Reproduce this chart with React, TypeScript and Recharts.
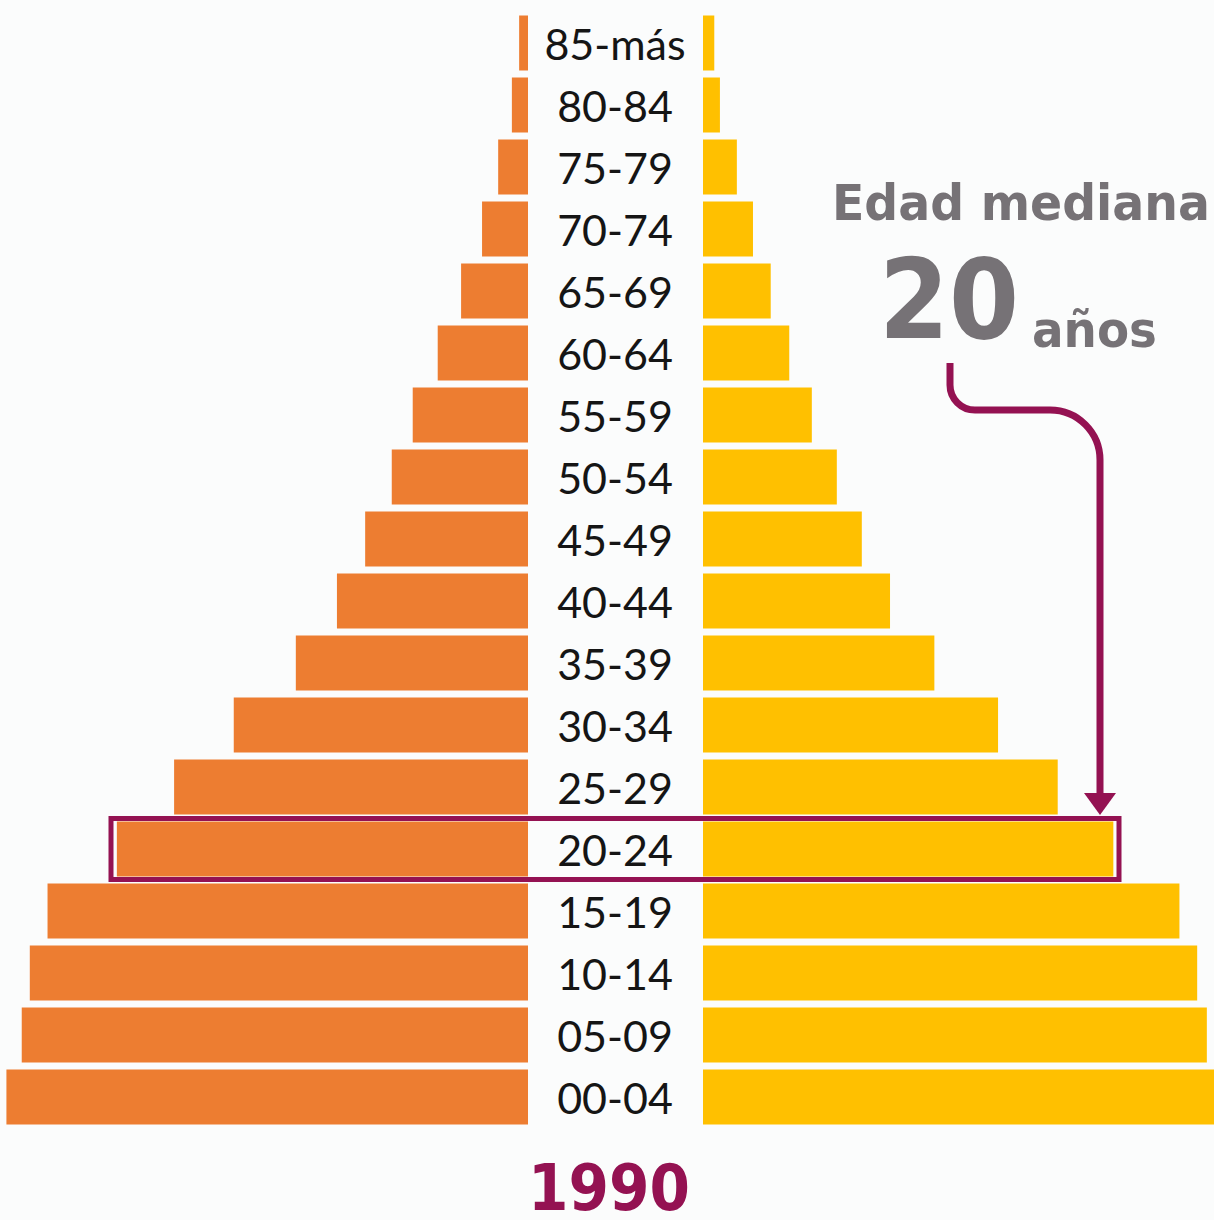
import { BarChart, Bar, XAxis, YAxis } from "recharts";

// Grupos de edad, de arriba hacia abajo
const AGE_GROUPS = [
  "85-más", "80-84", "75-79", "70-74", "65-69", "60-64", "55-59", "50-54", "45-49",
  "40-44", "35-39", "30-34", "25-29", "20-24", "15-19", "10-14", "05-09", "00-04",
];

// % de la población total, 1990
const MEN = [
  0.11, 0.2, 0.37, 0.57, 0.83, 1.12, 1.43, 1.69, 2.02,
  2.37, 2.88, 3.65, 4.39, 5.1, 5.96, 6.18, 6.28, 6.47,
];
const WOMEN = [
  0.14, 0.21, 0.42, 0.62, 0.84, 1.07, 1.35, 1.66, 1.97,
  2.32, 2.87, 3.66, 4.4, 5.09, 5.91, 6.13, 6.25, 6.34,
];

const MAX = 6.5;
const MEDIAN_AGE = "20";
const YEAR = "1990";

const ORANGE = "#ED7D31";
const YELLOW = "#FFC000";
const PURPLE = "#941252";
const GRAY = "#767276";

const data = AGE_GROUPS.map((age, i) => ({ age, men: MEN[i], women: WOMEN[i] }));

const CHART_H = 1130;
const MARGIN = { top: 11.5, bottom: 2.5 };

function AgeTick(props: any) {
  const { y, payload } = props;
  return (
    <text
      x={87}
      y={y + 17}
      textAnchor="middle"
      fontFamily="Lato, sans-serif"
      fontSize={43}
      fill="#151515"
    >
      {payload.value}
    </text>
  );
}

export default function App() {
  return (
    <div
      style={{
        position: "absolute",
        left: 0,
        top: 0,
        width: 1214,
        height: 1220,
        overflow: "hidden",
        background: "#fbfcfc",
      }}
    >
      {/* hombres */}
      <div style={{ position: "absolute", left: 0, top: 0 }}>
        <BarChart
          width={528}
          height={CHART_H}
          data={data}
          layout="vertical"
          margin={{ top: MARGIN.top, bottom: MARGIN.bottom, left: 4, right: 0 }}
        >
          <XAxis type="number" domain={[0, MAX]} reversed hide allowDataOverflow />
          <YAxis type="category" dataKey="age" hide />
          <Bar dataKey="men" fill={ORANGE} barSize={55} isAnimationActive={false} />
        </BarChart>
      </div>
      {/* mujeres + etiquetas */}
      <div style={{ position: "absolute", left: 528, top: 0 }}>
        <BarChart
          width={699}
          height={CHART_H}
          data={data}
          layout="vertical"
          margin={{ top: MARGIN.top, bottom: MARGIN.bottom, left: 0, right: 0 }}
        >
          <XAxis type="number" domain={[0, MAX]} hide allowDataOverflow />
          <YAxis
            type="category"
            dataKey="age"
            width={175}
            axisLine={false}
            tickLine={false}
            tick={<AgeTick />}
            interval={0}
          />
          <Bar dataKey="women" fill={YELLOW} barSize={55} isAnimationActive={false} />
        </BarChart>
      </div>
      {/* anotaciones */}
      <svg
        width={1214}
        height={1220}
        style={{ position: "absolute", left: 0, top: 0, pointerEvents: "none" }}
      >
        <rect x={111} y={818.5} width={1008} height={61} fill="none" stroke={PURPLE} strokeWidth={5} />
        <path
          d="M950 363 V385 A25 25 0 0 0 975 410 H1050 A50 50 0 0 1 1100 460 V796"
          fill="none"
          stroke={PURPLE}
          strokeWidth={7}
        />
        <polygon points="1084,793 1116,793 1100,815" fill={PURPLE} />
        <text
          x={832}
          y={220}
          fontFamily="'DejaVu Sans', sans-serif"
          fontWeight="bold"
          fontSize={50}
          fill={GRAY}
          textLength={378}
          lengthAdjust="spacingAndGlyphs"
        >
          Edad mediana
        </text>
        <text
          x={879}
          y={338}
          fontFamily="'DejaVu Sans', sans-serif"
          fontWeight="bold"
          fontSize={110}
          fill={GRAY}
          textLength={140}
          lengthAdjust="spacingAndGlyphs"
        >
          {MEDIAN_AGE}
        </text>
        <text
          x={1032}
          y={347}
          fontFamily="'DejaVu Sans', sans-serif"
          fontWeight="bold"
          fontSize={50}
          fill={GRAY}
          textLength={125}
          lengthAdjust="spacingAndGlyphs"
        >
          años
        </text>
        <text
          x={528}
          y={1210}
          fontFamily="'DejaVu Sans', sans-serif"
          fontWeight="bold"
          fontSize={64}
          fill={PURPLE}
          textLength={162}
          lengthAdjust="spacingAndGlyphs"
        >
          {YEAR}
        </text>
      </svg>
    </div>
  );
}
